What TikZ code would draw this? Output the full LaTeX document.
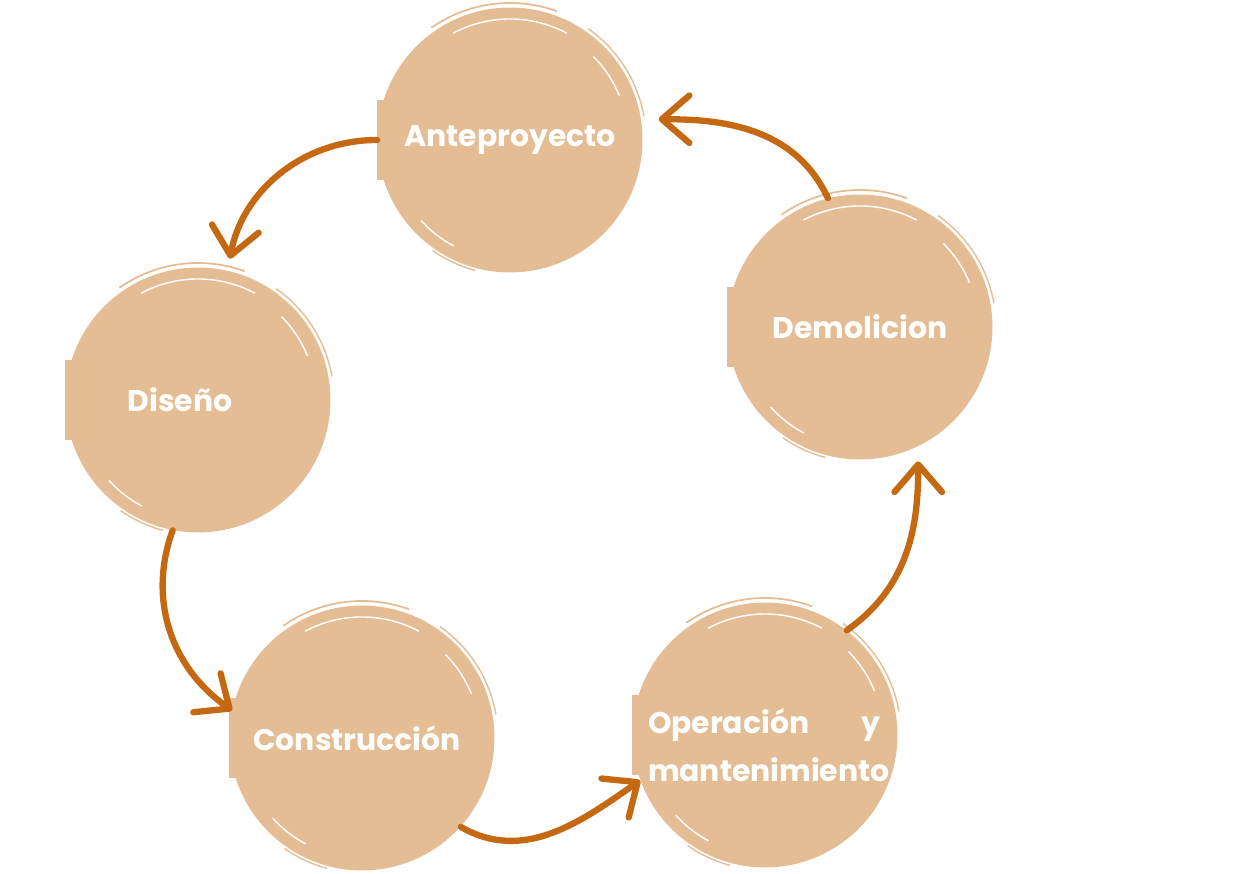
\documentclass[tikz,border=0pt]{standalone}
\usepackage{fontspec}
\setmainfont{Poppins}
\usetikzlibrary{arrows.meta,backgrounds}
\definecolor{peach}{HTML}{E4BD95}
\definecolor{rust}{HTML}{C46912}
\tikzset{
  blob/.style={circle,fill=peach,minimum size=5.3cm,inner sep=0pt,text=white,
    font=\bfseries\fontsize{17}{27}\selectfont},
  lbl/.style={inner sep=0pt,text=white,font=\bfseries\fontsize{17}{27}\selectfont},
  flow/.style={rust,line width=3.6pt,line cap=round,
    -{Straight Barb[length=0.55cm,width=0.95cm,round]}},
  streak/.style={white,line width=0.8pt},
}
\begin{document}
\begin{tikzpicture}[x=0.02cm,y=0.02cm]
  \useasboundingbox (0,0) rectangle (1255,874);
  \node[blob] (ante) at (510,734) {Anteproyecto};
  \node[blob] (demol) at (860,547) {Demolicion};
  \node[blob] (disen) at (198,474) {Diseño\kern0.72cm};
  \node[blob] (constr) at (362,136) {Construcción\kern0.2cm};
  \node[blob] (opera) at (765,139) {};
  \node[lbl,align=left,text width=4.64cm] (opera-txt) at (764,129)
    {Operación \hfill y\\mantenimiento};

  % brush look
  \begin{scope}[on background layer]
    \foreach \n in {ante,demol,disen,constr,opera} {
      \fill[peach] ([shift={(-133,-40)}]\n.center) rectangle ([shift={(-110,40)}]\n.center);
      \draw[peach,line width=1pt] (\n.center) ++(125:137) arc[start angle=125,end angle=70,radius=137];
      \draw[peach,line width=0.8pt] (\n.center) ++(55:136) arc[start angle=55,end angle=10,radius=136];
      \draw[peach,line width=0.8pt] (\n.center) ++(235:135) arc[start angle=235,end angle=255,radius=135];
    }
  \end{scope}
  \foreach \n in {ante,demol,disen,constr,opera} {
    \draw[streak] (\n.center) ++(118:121) arc[start angle=118,end angle=62,radius=121];
    \draw[streak] (\n.center) ++(45:118) arc[start angle=45,end angle=22,radius=118];
    \draw[streak] (\n.center) ++(222:120) arc[start angle=222,end angle=242,radius=120];
  }

  \draw[flow,shorten >=0.24cm] (ante.180) to[out=180,in=80] (disen.77);
  \draw[flow] (disen.259) to[out=250,in=145] (constr.168);
  \draw[flow] (constr.318) to[out=-30,in=215] (opera.200);
  \draw[flow,shorten >=0.3cm] (opera.52) to[out=35,in=-90] (demol.296);
  \draw[flow,shorten >=0.35cm] (demol.104) to[out=115,in=0] (ante.9);
\end{tikzpicture}
\end{document}
